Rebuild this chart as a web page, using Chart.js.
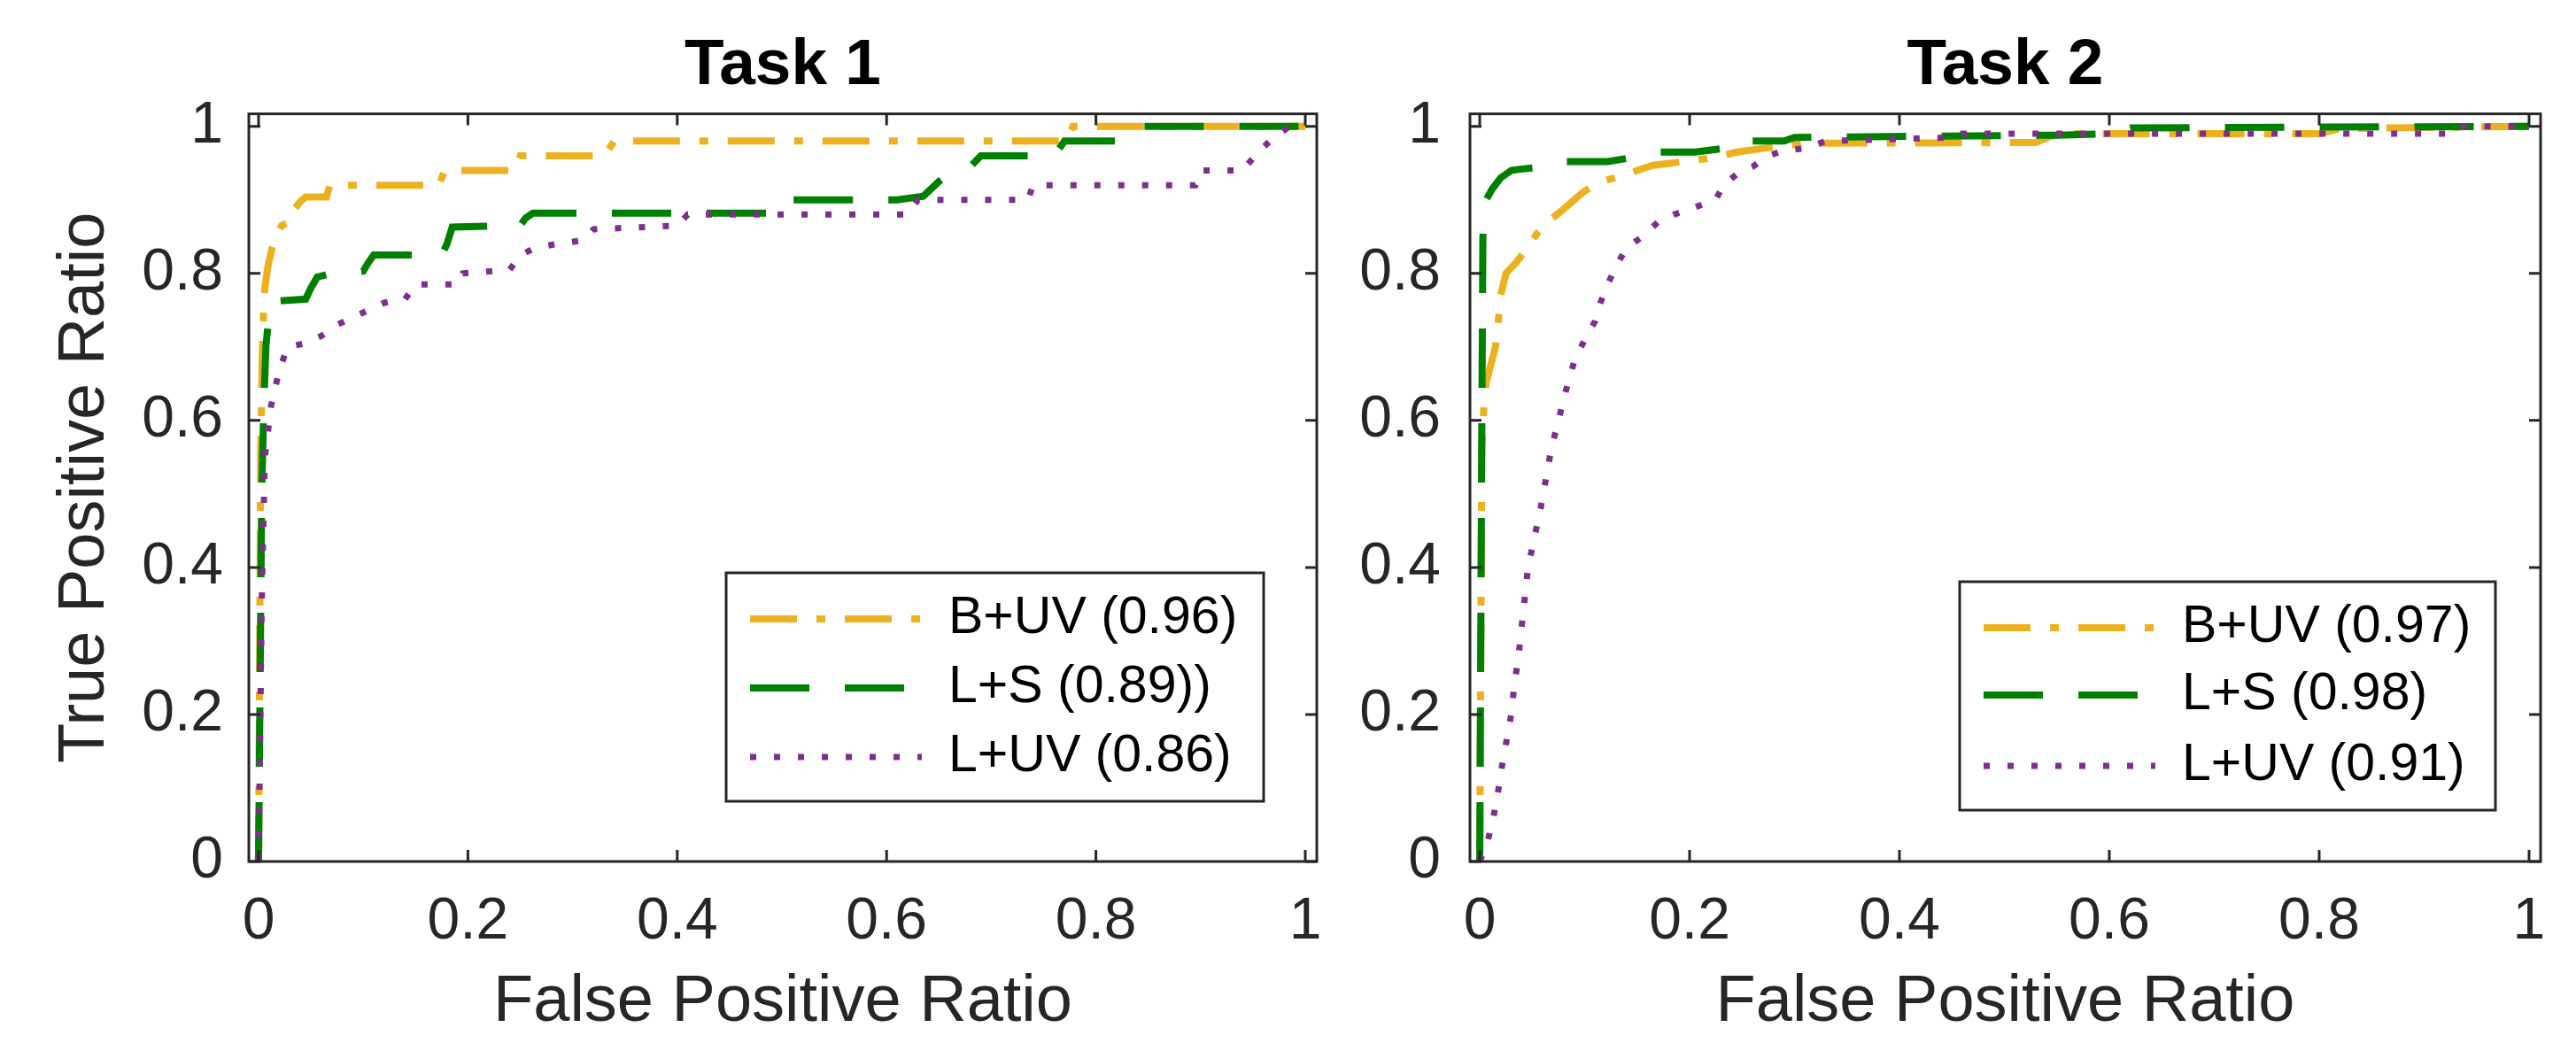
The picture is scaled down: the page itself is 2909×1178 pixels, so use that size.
<!DOCTYPE html>
<html><head><meta charset="utf-8">
<script src="https://cdn.jsdelivr.net/npm/chart.js@4.4.0/dist/chart.umd.min.js"></script>
<style>
html,body{margin:0;padding:0;background:#fff;}
body{width:2909px;height:1178px;position:relative;overflow:hidden;}
.wrap{position:absolute;top:0;height:1178px;}
#w1{left:0;width:1560px;}
#w2{left:1500px;width:1409px;}
canvas{display:block;}
</style></head><body>
<div class="wrap" id="w1"><canvas id="c1" width="1560" height="1178"></canvas></div>
<div class="wrap" id="w2"><canvas id="c2" width="1409" height="1178"></canvas></div>
<script>
// ---- data ----
const tickValues = [0, 0.2, 0.4, 0.6, 0.8, 1];
const tickLabels = ['0', '0.2', '0.4', '0.6', '0.8', '1'];
const panelTitles = ['Task 1', 'Task 2'];
const xAxisTitle = 'False Positive Ratio';
const yAxisTitle = 'True Positive Ratio';
const labels1 = ['B+UV (0.96)', 'L+S (0.89))', 'L+UV (0.86)'];
const labels2 = ['B+UV (0.97)', 'L+S (0.98)', 'L+UV (0.91)'];

// Task 1
const t1_buv_x = [0, 0.002, 0.003, 0.004, 0.006, 0.009, 0.013, 0.018, 0.022, 0.03, 0.033, 0.04, 0.045, 0.065, 0.068, 0.172, 0.178, 0.245, 0.25, 0.33, 0.34, 0.772, 0.778, 1];
const t1_buv_y = [0, 0.55, 0.64, 0.72, 0.78, 0.81, 0.835, 0.855, 0.865, 0.87, 0.885, 0.898, 0.904, 0.904, 0.92, 0.92, 0.94, 0.94, 0.96, 0.96, 0.98, 0.98, 1.0, 1.0];
const t1_ls_x = [0, 0.003, 0.005, 0.007, 0.01, 0.014, 0.045, 0.05, 0.056, 0.07, 0.1, 0.105, 0.11, 0.175, 0.18, 0.185, 0.25, 0.255, 0.262, 0.488, 0.495, 0.61, 0.635, 0.65, 0.665, 0.68, 0.69, 0.76, 0.77, 0.83, 0.845, 1];
const t1_ls_y = [0, 0.5, 0.62, 0.7, 0.745, 0.762, 0.765, 0.78, 0.795, 0.8, 0.803, 0.815, 0.825, 0.825, 0.84, 0.863, 0.865, 0.875, 0.882, 0.882, 0.9, 0.9, 0.905, 0.925, 0.94, 0.945, 0.96, 0.96, 0.98, 0.98, 1.0, 1.0];
const t1_luv_x = [0, 0.003, 0.006, 0.012, 0.02, 0.028, 0.045, 0.06, 0.075, 0.09, 0.105, 0.12, 0.14, 0.15, 0.19, 0.195, 0.24, 0.25, 0.265, 0.285, 0.31, 0.32, 0.40, 0.41, 0.62, 0.63, 0.735, 0.74, 0.895, 0.90, 0.94, 0.955, 0.97, 0.985, 1];
const t1_luv_y = [0, 0.35, 0.55, 0.62, 0.67, 0.70, 0.705, 0.715, 0.73, 0.74, 0.75, 0.76, 0.765, 0.785, 0.785, 0.80, 0.805, 0.825, 0.835, 0.84, 0.845, 0.86, 0.865, 0.88, 0.88, 0.90, 0.90, 0.92, 0.92, 0.94, 0.94, 0.965, 0.985, 1.0, 1.0];

// Task 2
const t2_buv_x = [0, 0.002, 0.004, 0.006, 0.015, 0.018, 0.02, 0.025, 0.035, 0.045, 0.055, 0.065, 0.078, 0.09, 0.1, 0.115, 0.135, 0.15, 0.165, 0.2, 0.225, 0.245, 0.27, 0.3, 0.31, 0.53, 0.55, 0.8, 0.82, 1];
const t2_buv_y = [0, 0.56, 0.62, 0.65, 0.70, 0.74, 0.77, 0.80, 0.815, 0.835, 0.855, 0.87, 0.885, 0.90, 0.912, 0.925, 0.932, 0.94, 0.947, 0.953, 0.958, 0.965, 0.97, 0.975, 0.977, 0.978, 0.99, 0.99, 0.997, 1];
const t2_ls_x = [0, 0.002, 0.003, 0.006, 0.012, 0.02, 0.03, 0.04, 0.065, 0.078, 0.122, 0.147, 0.168, 0.205, 0.233, 0.242, 0.29, 0.3, 0.55, 0.6, 0.62, 1];
const t2_ls_y = [0, 0.6, 0.85, 0.9, 0.915, 0.93, 0.94, 0.942, 0.945, 0.952, 0.952, 0.958, 0.965, 0.965, 0.97, 0.98, 0.98, 0.985, 0.988, 0.99, 0.998, 1];
const t2_luv_x = [0, 0.008, 0.013, 0.017, 0.02, 0.025, 0.03, 0.033, 0.037, 0.04, 0.043, 0.046, 0.052, 0.058, 0.063, 0.068, 0.075, 0.082, 0.09, 0.1, 0.11, 0.115, 0.122, 0.13, 0.14, 0.155, 0.17, 0.185, 0.205, 0.225, 0.232, 0.245, 0.26, 0.275, 0.29, 0.31, 0.33, 0.45, 0.46, 0.92, 0.93, 1];
const t2_luv_y = [0, 0.03, 0.06, 0.09, 0.12, 0.16, 0.2, 0.24, 0.28, 0.32, 0.36, 0.40, 0.44, 0.48, 0.52, 0.56, 0.60, 0.64, 0.68, 0.71, 0.735, 0.76, 0.785, 0.81, 0.835, 0.85, 0.87, 0.88, 0.89, 0.9, 0.92, 0.935, 0.945, 0.96, 0.967, 0.97, 0.98, 0.985, 0.99, 0.99, 1, 1];

// ---- styling ----
const FONT = '"Liberation Sans", Arial, Helvetica, sans-serif';
const AXC = '#262626';
const styles = [
  {color: '#EDB120', dash: [53, 22, 10, 22], width: 8, order: 3},
  {color: '#008000', dash: [67, 40], width: 8, order: 2},
  {color: '#7E2F8E', dash: [7, 20], width: 7, order: 1}
];

function pts(xs, ys) { return xs.map((x, i) => ({x: x, y: ys[i]})); }
function makeDatasets(labels, series) {
  return series.map((s, i) => ({
    label: labels[i],
    data: pts(s[0], s[1]),
    borderColor: styles[i].color,
    borderWidth: styles[i].width,
    borderDash: styles[i].dash,
    borderCapStyle: 'butt',
    borderJoinStyle: 'miter',
    pointRadius: 0,
    fill: false,
    tension: 0,
    order: styles[i].order
  }));
}

const framePlugin = {
  id: 'frame',
  afterDatasetsDraw(chart, args, opts) {
    const ctx = chart.ctx, a = chart.chartArea, x = chart.scales.x, y = chart.scales.y;
    ctx.save();
    ctx.setLineDash([]);
    ctx.strokeStyle = AXC; ctx.lineWidth = 3; ctx.lineCap = 'butt';
    ctx.strokeRect(a.left, a.top, a.right - a.left, a.bottom - a.top);
    const L = 13;
    ctx.beginPath();
    tickValues.forEach(v => {
      const px = x.getPixelForValue(v), py = y.getPixelForValue(v);
      ctx.moveTo(px, a.bottom); ctx.lineTo(px, a.bottom - L);
      ctx.moveTo(px, a.top); ctx.lineTo(px, a.top + L);
      ctx.moveTo(a.left, py); ctx.lineTo(a.left + L, py);
      ctx.moveTo(a.right, py); ctx.lineTo(a.right - L, py);
    });
    ctx.stroke();
    // legend box
    const bx = a.right - opts.insetRight - opts.width;
    const by = a.bottom - opts.insetBottom - opts.height;
    ctx.fillStyle = '#fff';
    ctx.fillRect(bx, by, opts.width, opts.height);
    ctx.lineWidth = 3; ctx.strokeStyle = AXC;
    ctx.strokeRect(bx, by, opts.width, opts.height);
    [0, 1, 2].forEach((i, r) => {
      const ds = chart.data.datasets[i];
      const yy = by + opts.rows[r];
      ctx.strokeStyle = ds.borderColor; ctx.lineWidth = ds.borderWidth;
      ctx.setLineDash(ds.borderDash);
      ctx.beginPath(); ctx.moveTo(bx + 27, yy); ctx.lineTo(bx + 221, yy); ctx.stroke();
      ctx.setLineDash([]);
      ctx.fillStyle = '#000';
      ctx.font = '59px ' + FONT;
      ctx.textBaseline = 'middle'; ctx.textAlign = 'left';
      ctx.fillText(ds.label, bx + 251, yy);
    });
    ctx.restore();
  }
};

function makeChart(id, title, datasets, yTitle, yWidth, yPad, padRight, legendOpts) {
  return new Chart(document.getElementById(id), {
    type: 'line',
    data: {datasets: datasets},
    plugins: [framePlugin],
    options: {
      responsive: false,
      animation: false,
      devicePixelRatio: 1,
      layout: {padding: {left: 0, right: padRight, top: 0, bottom: 0}},
      plugins: {
        legend: {display: false},
        tooltip: {enabled: false},
        title: {display: true, text: title, fullSize: false, color: '#000',
                font: {family: FONT, size: 73, weight: 'bold'}, padding: {top: 31, bottom: 10}},
        frame: legendOpts
      },
      scales: {
        x: {
          type: 'linear', min: -0.0093, max: 1.011,
          afterBuildTicks: s => { s.ticks = tickValues.map(v => ({value: v})); },
          afterFit: s => { s.height = 205; },
          grid: {display: false, drawTicks: false},
          border: {display: false},
          ticks: {callback: (v, i) => tickLabels[i], padding: 29, color: AXC,
                  font: {family: FONT, size: 66}, autoSkip: false, maxRotation: 0},
          title: {display: true, text: xAxisTitle, color: AXC, font: {family: FONT, size: 74},
                  padding: {top: 1, bottom: 1}}
        },
        y: {
          type: 'linear', min: 0, max: 1.017,
          afterBuildTicks: s => { s.ticks = tickValues.map(v => ({value: v})); },
          afterFit: s => { s.width = yWidth; },
          grid: {display: false, drawTicks: false},
          border: {display: false},
          ticks: {callback: (v, i) => tickLabels[i], padding: yPad, color: AXC,
                  font: {family: FONT, size: 66}, autoSkip: false},
          title: {display: !!yTitle, text: yTitle || '', color: AXC, font: {family: FONT, size: 74},
                  padding: {top: 52, bottom: 52}}
        }
      }
    }
  });
}

makeChart('c1', panelTitles[0],
  makeDatasets(labels1, [[t1_buv_x, t1_buv_y], [t1_ls_x, t1_ls_y], [t1_luv_x, t1_luv_y]]),
  yAxisTitle, 281, 29, 73,
  {insetRight: 60, insetBottom: 68, width: 607, height: 258, rows: [52, 130, 208]});
makeChart('c2', panelTitles[1],
  makeDatasets(labels2, [[t2_buv_x, t2_buv_y], [t2_ls_x, t2_ls_y], [t2_luv_x, t2_luv_y]]),
  '', 160, 33, 40,
  {insetRight: 51, insetBottom: 58, width: 605, height: 258, rows: [52, 128, 208]});
</script>
</body></html>
